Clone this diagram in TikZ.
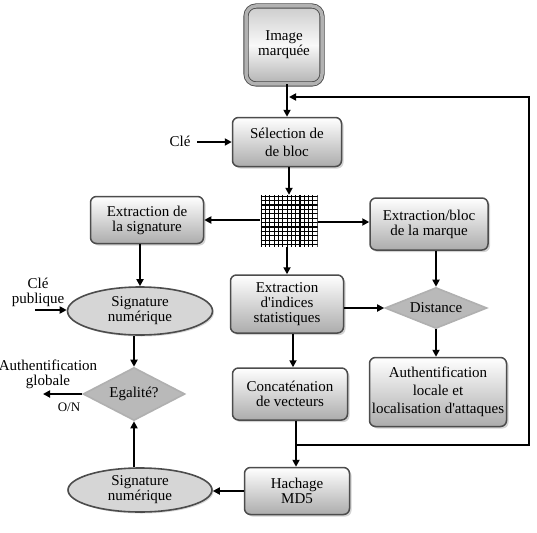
\documentclass[tikz,border=0pt]{standalone}
\usepackage{fontspec}
\setmainfont{Liberation Serif}
\usetikzlibrary{shapes.geometric,shadows,arrows.meta}

\tikzset{
  base/.style={align=center, inner sep=0pt, font=\fontsize{15}{15}\selectfont},
  proc/.style={base, rectangle, rounded corners=6pt, draw=gray!60!black, line width=1.5pt,
    top color=white, bottom color=gray!65,
    drop shadow={shadow xshift=2pt, shadow yshift=-2pt, opacity=0.35}},
  startbox/.style={base, rectangle, rounded corners=10pt, draw=gray!55!black, line width=0.8pt,
    double=gray!60, double distance=3.5pt,
    top color=gray!40, bottom color=gray!60, middle color=gray!5,
    drop shadow={shadow xshift=2pt, shadow yshift=-2pt, opacity=0.3}},
  ell/.style={base, ellipse, draw=gray!60!black, line width=1.6pt, fill=gray!32,
    drop shadow={shadow xshift=1.5pt, shadow yshift=-1.5pt, opacity=0.3}},
  dia/.style={base, diamond, aspect=2.4, draw=gray!62, line width=1.6pt, fill=gray!55},
  lbl/.style={base},
  arr/.style={line width=2pt, -{Triangle[length=7pt,width=7pt]}},
  meshline/.style={line width=1.1pt}
}

\begin{document}
\begin{tikzpicture}[x=1pt, y=-1pt]
\useasboundingbox (0,0) rectangle (537,532);

% nodes
\node[startbox, minimum width=76pt, minimum height=78pt] (img) at (284,45) {Image\\marquée};
\node[proc, minimum width=109pt, minimum height=49pt, font=\fontsize{15}{18}\selectfont] (sel) at (287,142) {Sélection de\\de bloc};
\node[lbl] (cle) at (180,141) {Clé};

% block mesh
\node[minimum width=57pt, minimum height=52pt, inner sep=0pt,
  path picture={
    \foreach \k in {0,...,13} {
      \draw[meshline] ([xshift={\k*4.3pt+0.8pt}]path picture bounding box.north west)
        -- ([xshift={\k*4.3pt+0.8pt}]path picture bounding box.south west);
    }
    \foreach \k in {0,...,11} {
      \draw[meshline] ([yshift={-\k*4.4pt-1.2pt}]path picture bounding box.north west)
        -- ([yshift={-\k*4.4pt-1.2pt}]path picture bounding box.north east);
    }
  }] (grid) at (289,221) {};

\node[proc, minimum width=113pt, minimum height=47pt] (sig) at (147,220) {Extraction de\\la signature};
\node[proc, minimum width=118pt, minimum height=52pt] (mark) at (429,224) {Extraction/bloc\\de la marque};
\node[proc, minimum width=113pt, minimum height=58pt] (ind) at (287,304) {Extraction\\d\textquotesingle indices\\statistiques};
\node[dia, minimum width=102pt, minimum height=41pt] (dist) at (436,308) {Distance};

\node[ell, minimum width=145pt, minimum height=48pt] (sn1) at (140,311) {Signature\\numérique};
\node[lbl] (clep) at (38,292) {Clé\\publique};
\coordinate (clein) at (35,310);

\node[dia, minimum width=102pt, minimum height=53pt] (eg) at (134,394) {Egalité?};
\node[lbl] (glob) at (48,374) {Authentification\\globale};
\coordinate (globout) at (43,394);
\node[lbl, font=\fontsize{13}{13}\selectfont] (on) at (69,407) {O/N};

\node[proc, minimum width=115pt, minimum height=52pt] (conc) at (290,394) {Concaténation\\de vecteurs};
\node[proc, minimum width=137pt, minimum height=69pt, font=\fontsize{15}{18}\selectfont] (loc) at (438,392) {Authentification\\locale et\\localisation d\textquotesingle attaques};

\node[proc, minimum width=105pt, minimum height=47pt] (hach) at (297,491) {Hachage\\MD5};
\node[ell, minimum width=144pt, minimum height=44pt] (sn2) at (140,490) {Signature\\numérique};

% connectors
\draw[arr] (img.south -| sel.north) -- (sel.north);
\coordinate (clestart) at (197,142);
\draw[arr] (clestart) -- (sel.west |- clestart);
\draw[arr] (sel.south -| grid.north) -- (grid.north);
\draw[arr] (grid.west |- sig.east) -- (sig.east);
\draw[arr] (grid.east |- 0,222) -- (mark.west |- 0,222);
\draw[arr] (grid.south -| ind.north) -- (ind.north);
\draw[arr] (sig.south -| sn1.north) -- (sn1.north);
\draw[arr] (clein) -- (sn1.west |- clein);
\draw[arr] (sn1.south -| eg.north) -- (eg.north);
\draw[arr] (eg.west) -- (globout);
\draw[arr] (ind.east |- dist.west) -- (dist.west);
\draw[arr] (mark.south -| dist.north) -- (dist.north);
\draw[arr] (dist.south) -- (loc.north -| dist.south);
\draw[arr] (ind.south -| 293,0) -- (conc.north -| 293,0);
\draw[arr] (conc.south -| 296,0) -- (hach.north -| 296,0);
\draw[arr] (hach.west) -- (sn2.east |- hach.west);
\draw[arr] (sn2.north -| eg.south) -- (eg.south);

% feedback loop back to block selection
\coordinate (junc) at (296,445);
\coordinate (fbend) at (289,97);
\draw[arr] (junc) -- (529,445) -- (529,97) -- (fbend);
\end{tikzpicture}
\end{document}
